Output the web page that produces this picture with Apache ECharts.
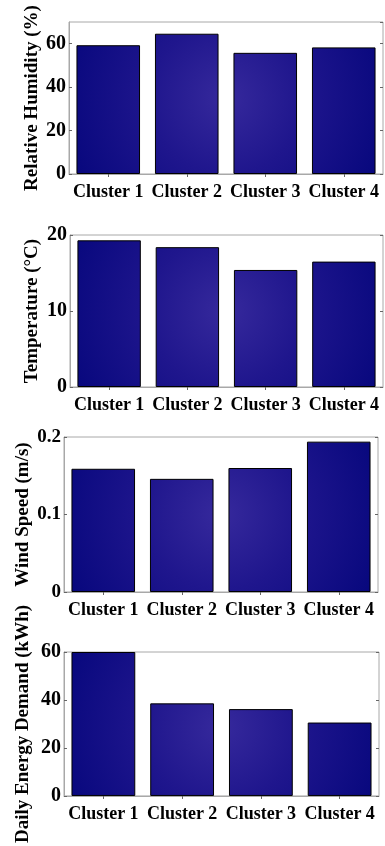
<!DOCTYPE html>
<html>
<head>
<meta charset="utf-8">
<script src="https://cdn.jsdelivr.net/npm/echarts@6/dist/echarts.min.js"></script>
<style>html,body{margin:0;padding:0;background:#fff}#c{width:385px;height:846px}</style>
</head>
<body>
<div id="c"></div>
<script>
var categories = ['Cluster 1', 'Cluster 2', 'Cluster 3', 'Cluster 4'];
var humidity = [59.3, 64.6, 55.8, 58.3];
var temperature = [19.3, 18.4, 15.4, 16.5];
var windSpeed = [0.159, 0.146, 0.160, 0.194];
var energyDemand = [60, 38.6, 36.2, 30.6];
var axisNames = ['Relative Humidity (%)', 'Temperature (\u00B0C)', 'Wind Speed (m/s)', 'Daily Energy Demand (kWh)'];
var yMax = [70, 20, 0.2, 60];
var yInterval = [20, 10, 0.1, 20];

var panelData = [humidity, temperature, windSpeed, energyDemand];
var grids = [
  {left: 69, right: 2, top: 22, height: 152},
  {left: 70, right: 2, top: 235, height: 152},
  {left: 64, right: 7, top: 437, height: 155},
  {left: 64, right: 6, top: 652, height: 151}
];
var nameGaps = [27, 28, 31, 31];
var glow = [[226, 98], [226, 311], [221, 514], [221, 727]];
var font = 'Liberation Serif';
var frame = '#a8a8a8';

var option = {
  animation: false,
  backgroundColor: '#fff',
  grid: [], xAxis: [], yAxis: [], series: []
};
grids.forEach(function (g, i) {
  option.grid.push(Object.assign({show: true, borderColor: frame, borderWidth: 1, containLabel: false}, g));
  option.xAxis.push({
    type: 'category', gridIndex: i, data: categories, position: 'bottom',
    axisLine: {show: true, lineStyle: {color: frame}},
    axisTick: {show: false},
    axisLabel: {color: '#000', fontFamily: font, fontWeight: 'bold', fontSize: 18, margin: 9, interval: 0}
  });
  option.xAxis.push({
    type: 'category', gridIndex: i, data: categories, position: 'top',
    axisLine: {show: false},
    axisTick: {show: true, inside: true, length: 3, alignWithLabel: true, lineStyle: {color: '#666'}},
    axisLabel: {show: false}
  });
  option.yAxis.push({
    type: 'value', gridIndex: i, min: 0, max: yMax[i], interval: yInterval[i],
    name: axisNames[i], nameLocation: 'middle', nameGap: nameGaps[i], nameMoveOverlap: false,
    nameTextStyle: {color: '#000', fontFamily: font, fontWeight: 'bold', fontSize: 19},
    axisLine: {show: true, lineStyle: {color: frame}},
    axisTick: {show: true, inside: true, length: 3, lineStyle: {color: '#666'}},
    axisLabel: {color: '#000', fontFamily: font, fontWeight: 'bold', fontSize: i === 2 ? 19 : 20, margin: 3,
      showMaxLabel: i === 0 ? false : true},
    splitLine: {show: false}
  });
  option.yAxis.push({
    type: 'value', gridIndex: i, min: 0, max: yMax[i], interval: yInterval[i], position: 'right',
    axisLine: {show: false},
    axisTick: {show: true, inside: true, length: 3, lineStyle: {color: '#666'}},
    axisLabel: {show: false}, splitLine: {show: false}
  });
  option.series.push({
    type: 'bar', xAxisIndex: i * 2, yAxisIndex: i * 2, data: panelData[i], barWidth: '81%',
    itemStyle: {
      borderColor: '#000', borderWidth: 1,
      color: {type: 'radial', x: glow[i][0], y: glow[i][1], r: 170, global: true,
        colorStops: [{offset: 0, color: '#36299c'}, {offset: 0.45, color: '#1f168d'}, {offset: 1, color: '#07077d'}]}
    }
  });
});
var chart = echarts.init(document.getElementById('c'), null, {renderer: 'canvas'});
chart.setOption(option);
</script>
</body>
</html>
